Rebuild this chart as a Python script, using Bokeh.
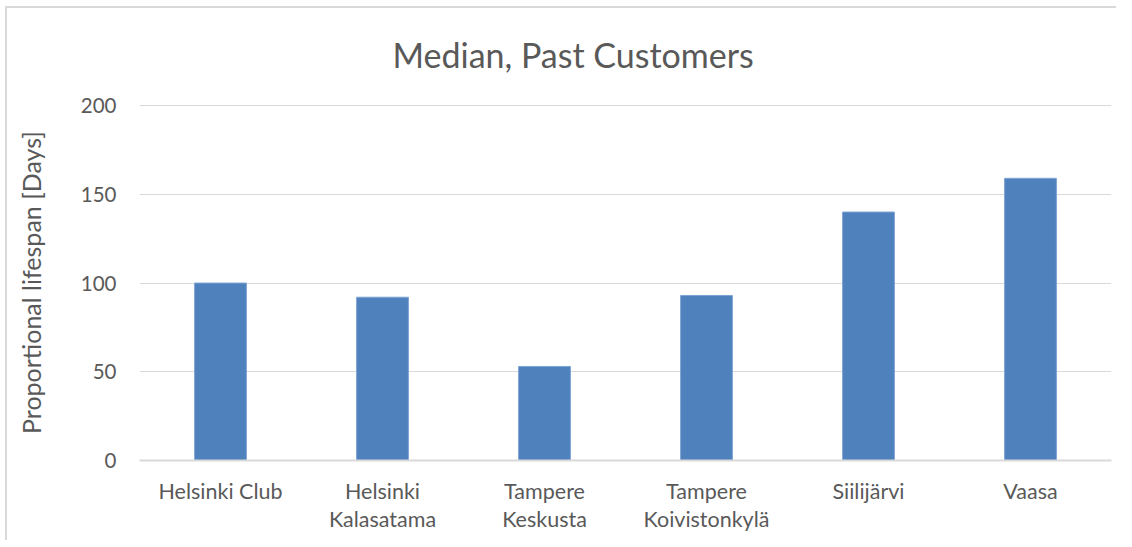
from bokeh.plotting import figure
from bokeh.models import ColumnDataSource, Range1d, FixedTicker, Title
from bokeh.embed import file_html
from bokeh.resources import INLINE

categories = ["Helsinki Club", "Helsinki\nKalasatama", "Tampere\nKeskusta",
              "Tampere\nKoivistonkylä", "Siilijärvi", "Vaasa"]
values = [100, 92, 53, 93, 140, 159]
y_ticks = [0, 50, 100, 150, 200]
title_text = "Median, Past Customers"
y_label = "Proportional lifespan [Days]"

FONT = "Lato"
TXT = "#595959"
BORDER = "#d9d9d9"

src = ColumnDataSource(dict(cat=categories, val=values))

p = figure(x_range=categories, y_range=Range1d(0, 200.6),
           width=1116, height=540, output_backend="svg", toolbar_location=None,
           min_border_left=139, min_border_right=5, min_border_top=104, min_border_bottom=80,
           styles={
               "box-shadow": f"inset 5px 6px 0 0 white, inset 7px 8px 0 0 {BORDER}",
               "background-color": "white",
           })

p.title = Title(text=title_text, align="left", offset=253, standoff=60,
                vertical_align="bottom",
                text_font=FONT, text_font_size="34px", text_font_style="normal",
                text_color=TXT)

p.vbar(x="cat", top="val", width=0.32, source=src,
       fill_color="#4f81bd", line_color="#7fa3d4", line_width=1)

p.yaxis.ticker = FixedTicker(ticks=y_ticks)
p.yaxis.axis_label = y_label
p.yaxis.axis_label_text_font = FONT
p.yaxis.axis_label_text_font_size = "25px"
p.yaxis.axis_label_text_font_style = "normal"
p.yaxis.axis_label_text_color = TXT
p.yaxis.axis_label_standoff = 32
p.yaxis.axis_line_color = None
p.yaxis.major_tick_out = 0
p.yaxis.major_tick_in = 0
p.yaxis.minor_tick_out = 0
p.yaxis.major_tick_line_color = None
p.yaxis.minor_tick_line_color = None
p.yaxis.major_label_text_font = FONT
p.yaxis.major_label_text_font_size = "20.5px"
p.yaxis.major_label_text_color = TXT
p.yaxis.major_label_standoff = 23

p.xaxis.axis_line_color = BORDER
p.xaxis.axis_line_width = 2
p.xaxis.major_tick_out = 0
p.xaxis.major_tick_in = 0
p.xaxis.minor_tick_out = 0
p.xaxis.axis_label_standoff = 0
p.xaxis.major_tick_line_color = None
p.xaxis.minor_tick_line_color = None
p.xaxis.major_label_text_font = FONT
p.xaxis.major_label_text_font_size = "21.5px"
p.xaxis.major_label_text_line_height = 1.1
p.xaxis.major_label_text_color = TXT
p.xaxis.major_label_standoff = 17

p.xgrid.grid_line_color = None
p.ygrid.grid_line_color = BORDER
p.ygrid.grid_line_width = 1
p.outline_line_color = None
p.background_fill_color = "white"
p.border_fill_color = None
p.x_range.range_padding = 0

open("out.html", "w").write(file_html(p, INLINE))
